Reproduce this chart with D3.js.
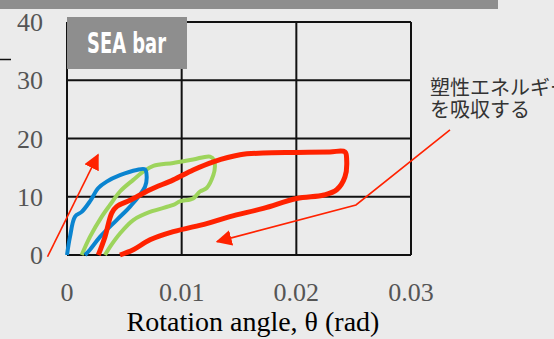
<!DOCTYPE html>
<html>
<head>
<meta charset="utf-8">
<script src="https://cdn.jsdelivr.net/npm/d3@7"></script>
<style>
  html, body { margin: 0; padding: 0; background: #ebebeb; }
  svg { display: block; }
</style>
</head>
<body>
<svg id="chart" width="554" height="339"></svg>
<script>
// Hysteresis loops: rotation angle (rad) vs. moment
const blueLoop = [
  [0.0000, 0], [0.00026, 3.1], [0.0007, 6.6], [0.00128, 7.4], [0.0020, 9.2],
  [0.00273, 11.5], [0.00346, 12.6], [0.00462, 13.7], [0.00608, 14.6], [0.0068, 14.7],
  [0.00695, 13.4], [0.0068, 11.7], [0.0055, 8.3], [0.00433, 6.0], [0.00288, 3.1],
  [0.0020, 0.9], [0.00157, 0]
];
const greenLoop = [
  [0.00128, 0], [0.0020, 3.1], [0.00303, 6.6], [0.00375, 8.6], [0.00462, 10.9],
  [0.00578, 12.9], [0.00665, 14.3], [0.00753, 15.3], [0.00927, 15.8], [0.0110, 16.4],
  [0.01247, 16.9], [0.01282, 16.3], [0.0129, 15.2], [0.01276, 13.7], [0.01218, 11.5],
  [0.0116, 10.9], [0.0110, 9.7], [0.00985, 9.2], [0.00927, 8.6], [0.00724, 7.4],
  [0.00578, 6.0], [0.00462, 3.7], [0.00375, 1.4], [0.00331, 0]
];
const redLoop = [
  [0.00273, 0], [0.00331, 3.1], [0.0039, 7.2], [0.00433, 8.3], [0.0055, 9.4],
  [0.00724, 11.2], [0.00927, 12.9], [0.0110, 14.6], [0.01276, 16.0], [0.01509, 17.2],
  [0.01709, 17.5], [0.02003, 17.6], [0.02293, 17.7], [0.02424, 17.7], [0.02439, 16.3],
  [0.02424, 13.4], [0.02352, 11.2], [0.02241, 10.3], [0.02003, 9.7], [0.01712, 8.0],
  [0.01421, 6.6], [0.01218, 5.4], [0.00927, 4.0], [0.00724, 2.6], [0.00578, 0.9],
  [0.00462, 0]
];
const xTicks = [0, 0.01, 0.02, 0.03];
const xTickLabels = ["0", "0.01", "0.02", "0.03"];
const yTicks = [0, 10, 20, 30, 40];
const yTickLabels = ["0", "10", "20", "30", "40"];
const xTitle = "Rotation angle, θ (rad)";
const boxTitle = "SEA bar";
const noteLines = ["塑性エネルギー", "を吸収する"];
// Annotation arrows, in data units
const loadArrow = [[-0.0017, -0.3], [0.0027, 17.2]];
const noteArrow = [[0.0334, 21.5], [0.0252, 8.6], [0.0131, 2.3]];

const svg = d3.select("#chart");
const x = d3.scaleLinear().domain([0, 0.03]).range([67, 411]);
const y = d3.scaleLinear().domain([0, 40]).range([255, 22]);

// top banner strip
svg.append("rect").attr("x", 0).attr("y", 0).attr("width", 498).attr("height", 9).attr("fill", "#8e8e8e");
// small dash at the left edge
svg.append("line").attr("x1", 0).attr("x2", 11).attr("y1", 59.5).attr("y2", 59.5)
  .attr("stroke", "#111").attr("stroke-width", 1.5);

// grid
const grid = svg.append("g").attr("stroke", "#111").attr("stroke-width", 2);
grid.selectAll("line.h").data(yTicks).join("line").attr("class", "h")
  .attr("x1", x(0)).attr("x2", x(0.03)).attr("y1", d => y(d)).attr("y2", d => y(d));
grid.selectAll("line.v").data(xTicks).join("line").attr("class", "v")
  .attr("x1", d => x(d)).attr("x2", d => x(d)).attr("y1", y(0)).attr("y2", y(40));

// tick labels
svg.append("g").selectAll("text").data(yTicks).join("text")
  .attr("x", 43).attr("y", d => y(d)).attr("dy", "0.35em")
  .attr("text-anchor", "end").attr("fill", "#555")
  .attr("font-family", "Liberation Serif, Times New Roman, serif").attr("font-size", 26)
  .text((d, i) => yTickLabels[i]);
svg.append("g").selectAll("text").data(xTicks).join("text")
  .attr("x", d => x(d)).attr("y", 301).attr("text-anchor", "middle").attr("fill", "#555")
  .attr("font-family", "Liberation Serif, Times New Roman, serif").attr("font-size", 26)
  .text((d, i) => xTickLabels[i]);
svg.append("text").attr("x", 253).attr("y", 331).attr("text-anchor", "middle").attr("fill", "#000")
  .attr("font-family", "Liberation Serif, Times New Roman, serif").attr("font-size", 28)
  .text(xTitle);

// title box
svg.append("rect").attr("x", 67).attr("y", 17).attr("width", 120).attr("height", 52).attr("fill", "#8e8e8e");
svg.append("text").attr("x", 87).attr("y", 53).attr("fill", "#fff")
  .attr("font-family", "DejaVu Sans Condensed, DejaVu Sans, sans-serif")
  .attr("font-weight", "bold").attr("font-size", 28)
  .attr("textLength", 79).attr("lengthAdjust", "spacingAndGlyphs")
  .text(boxTitle);

// loops
const line = d3.line().x(d => x(d[0])).y(d => y(d[1])).curve(d3.curveCatmullRom.alpha(0.5));
const loops = [
  { data: greenLoop, color: "#9dd45c", w: 4 },
  { data: blueLoop, color: "#0a84d0", w: 4 },
  { data: redLoop, color: "#ff2200", w: 5 }
];
svg.append("g").selectAll("path").data(loops).join("path")
  .attr("d", d => line(d.data)).attr("fill", "none")
  .attr("stroke", d => d.color).attr("stroke-width", d => d.w)
  .attr("stroke-linejoin", "round");

// arrows
const defs = svg.append("defs");
defs.append("marker").attr("id", "head").attr("viewBox", "0 0 10 10")
  .attr("refX", 9).attr("refY", 5).attr("markerWidth", 16).attr("markerHeight", 16)
  .attr("markerUnits", "userSpaceOnUse").attr("orient", "auto")
  .append("path").attr("d", "M0,0 L10,5 L0,10 Z").attr("fill", "#ff2200");
const straight = d3.line().x(d => x(d[0])).y(d => y(d[1]));
svg.append("path").attr("d", straight(loadArrow)).attr("fill", "none")
  .attr("stroke", "#ff2200").attr("stroke-width", 1.6).attr("marker-end", "url(#head)");
svg.append("path").attr("d", straight(noteArrow)).attr("fill", "none")
  .attr("stroke", "#ff2200").attr("stroke-width", 1.6).attr("marker-end", "url(#head)");

// note text (first line runs past the right edge)
svg.append("g").selectAll("text").data(noteLines).join("text")
  .attr("x", 430).attr("y", (d, i) => 95 + i * 22).attr("fill", "#333")
  .attr("font-family", "Noto Sans CJK JP, sans-serif").attr("font-size", 20)
  .text(d => d);
</script>
</body>
</html>
